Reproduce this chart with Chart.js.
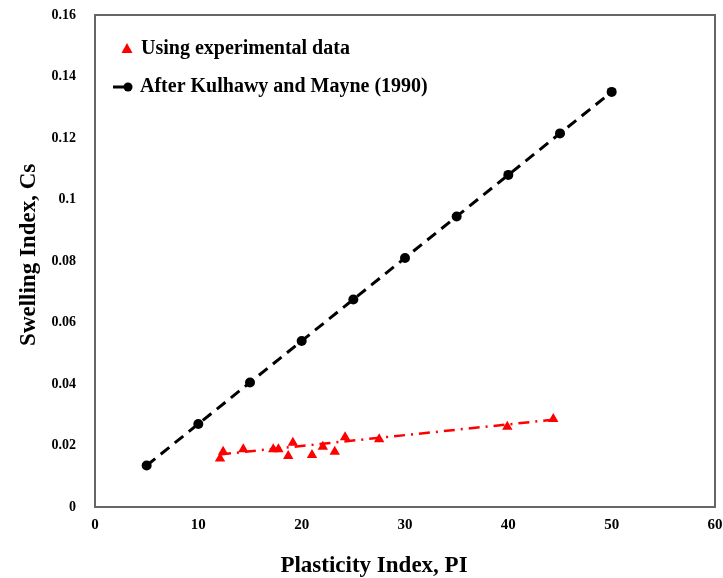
<!DOCTYPE html>
<html><head><meta charset="utf-8">
<script src="https://cdn.jsdelivr.net/npm/chart.js@4/dist/chart.umd.min.js"></script>
<style>html,body{margin:0;padding:0;background:#fff;} #wrap{width:723px;height:578px;position:relative;}</style>
</head><body><div id="wrap"><canvas id="c"></canvas></div>
<script>
// ---- data ----
const kmPI = [5, 10, 15, 20, 25, 30, 35, 40, 45, 50];
const kmCs = [0.0135, 0.027, 0.0405, 0.054, 0.0675, 0.081, 0.0945, 0.108, 0.1215, 0.135];
const expPI = [12.1, 12.4, 14.35, 17.25, 17.75, 18.7, 19.15, 21.0, 22.05, 23.2, 24.2, 27.5, 39.9, 44.35];
const expCs = [0.0158, 0.0180, 0.0188, 0.0188, 0.0188, 0.0166, 0.0209, 0.0169, 0.0196, 0.0180, 0.0227, 0.0220, 0.0261, 0.0286];
const trendPI = [12.1, 44.35];
const trendCs = [0.0171, 0.0284];
const xTicks = [0, 10, 20, 30, 40, 50, 60];
const yTicks = [0, 0.02, 0.04, 0.06, 0.08, 0.1, 0.12, 0.14, 0.16];
const seriesNames = ['Using experimental data', 'After Kulhawy and Mayne (1990)'];
const xTitle = 'Plasticity Index, PI';
const yTitle = 'Swelling Index, Cs';

const FONT = "'Liberation Serif', 'Times New Roman', serif";
const pts = (xs, ys) => xs.map((x, i) => ({x, y: ys[i]}));

const frame = {
  id: 'frame',
  afterDraw(chart) {
    const {ctx, chartArea: a} = chart;
    ctx.save();
    ctx.strokeStyle = '#666';
    ctx.lineWidth = 2;
    ctx.strokeRect(a.left, a.top, a.right - a.left, a.bottom - a.top);
    ctx.fillStyle = '#000';
    ctx.font = 'bold 23px ' + FONT;
    ctx.textAlign = 'center';
    ctx.textBaseline = 'middle';
    // x title
    const xs = chart.scales.x, ys = chart.scales.y;
    ctx.fillText(xTitle, xs.getPixelForValue(27), 566);
    // y title
    ctx.save();
    ctx.translate(29, ys.getPixelForValue(0.082));
    ctx.rotate(-Math.PI / 2);
    ctx.fillText(yTitle, 0, 0);
    ctx.restore();
    // legend
    ctx.font = 'bold 20px ' + FONT;
    ctx.textAlign = 'left';
    const lx = a.left + 32, y1 = a.top + 34, y2 = a.top + 72;
    ctx.fillStyle = '#ff0000';
    ctx.beginPath();
    ctx.moveTo(lx, y1 - 6); ctx.lineTo(lx + 5.5, y1 + 4); ctx.lineTo(lx - 5.5, y1 + 4); ctx.closePath();
    ctx.fill();
    ctx.fillStyle = '#000';
    ctx.fillText(seriesNames[0], lx + 14, y1);
    ctx.strokeStyle = '#000'; ctx.lineWidth = 3;
    ctx.beginPath(); ctx.moveTo(lx - 14, y2); ctx.lineTo(lx, y2); ctx.stroke();
    ctx.beginPath(); ctx.arc(lx + 1, y2, 4.5, 0, Math.PI * 2); ctx.fill();
    ctx.fillText(seriesNames[1], lx + 13, y2);
    ctx.restore();
  }
};

new Chart(document.getElementById('c'), {
  type: 'scatter',
  data: {
    datasets: [
      {
        label: seriesNames[1],
        data: pts(kmPI, kmCs),
        showLine: true,
        borderColor: '#000',
        backgroundColor: '#000',
        borderWidth: 3,
        borderDash: [11, 7],
        pointStyle: 'circle',
        pointRadius: 5,
        pointBorderWidth: 0
      },
      {
        label: 'trend',
        data: pts(trendPI, trendCs),
        showLine: true,
        borderColor: '#ff0000',
        borderWidth: 2.5,
        borderDash: [11, 6, 2, 6],
        pointRadius: 0
      },
      {
        label: seriesNames[0],
        data: pts(expPI, expCs),
        showLine: false,
        backgroundColor: '#ff0000',
        borderColor: '#ff0000',
        pointStyle: 'triangle',
        pointRadius: 6,
        pointBorderWidth: 0
      }
    ]
  },
  options: {
    responsive: true,
    maintainAspectRatio: false,
    animation: false,
    layout: {padding: {left: 0, top: 15, right: 0, bottom: 0}},
    plugins: {legend: {display: false}, tooltip: {enabled: false}},
    scales: {
      x: {
        type: 'linear', min: 0, max: 60,
        afterBuildTicks: s => { s.ticks = xTicks.map(v => ({value: v})); },
        afterFit: s => { s.height = 71; s.paddingRight = 8; s.paddingLeft = 0; },
        grid: {display: false, drawTicks: false},
        border: {display: false},
        ticks: {color: '#000', padding: 9, font: {family: FONT, size: 15, weight: 'bold'}, maxRotation: 0,
                callback: v => String(v)}
      },
      y: {
        type: 'linear', min: 0, max: 0.16,
        afterBuildTicks: s => { s.ticks = yTicks.map(v => ({value: v})); },
        afterFit: s => { s.width = 95; s.paddingTop = 0; s.paddingBottom = 0; },
        grid: {display: false, drawTicks: false},
        border: {display: false},
        ticks: {color: '#000', padding: 19, font: {family: FONT, size: 14, weight: 'bold'},
                callback: v => String(+Number(v).toFixed(3))}
      }
    }
  },
  plugins: [frame]
});
</script>
</body></html>
